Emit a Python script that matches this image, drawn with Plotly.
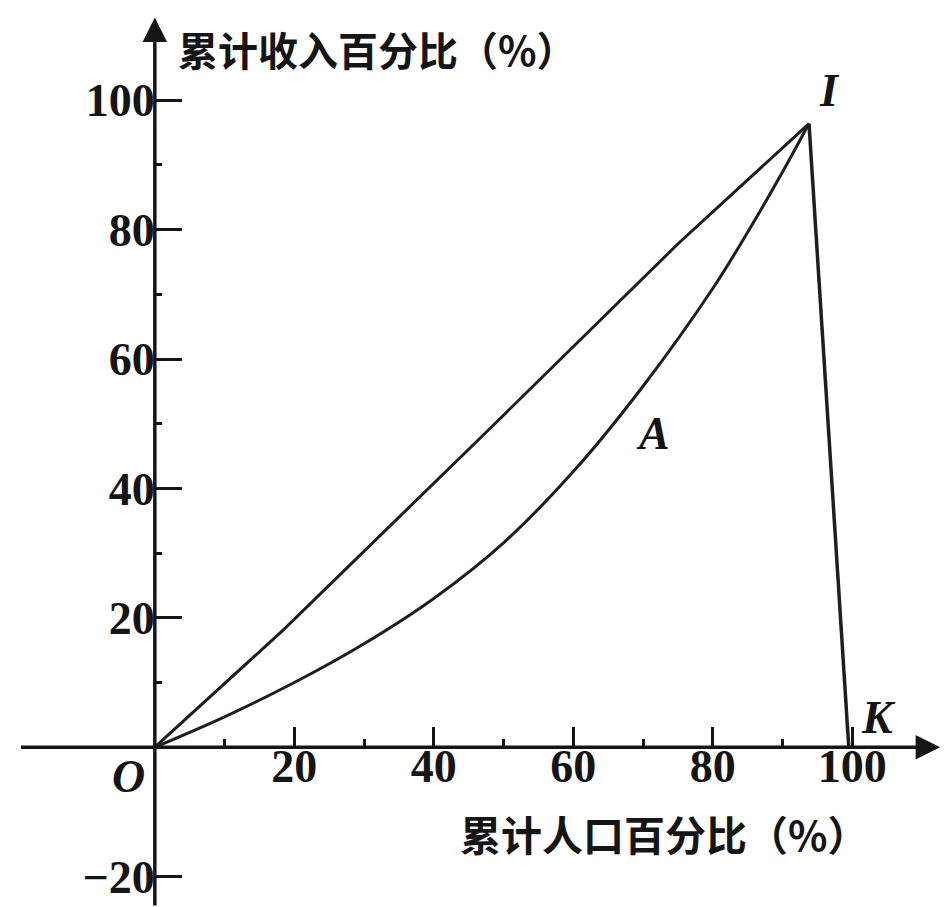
import plotly.graph_objects as go

# ---- data (cumulative population %, cumulative income %) ----
equal_x = [0, 18.4, 47.8, 75.1, 93.8]
equal_y = [0, 18.1, 49.0, 77.9, 96.4]

curve_a_x = [0, 10, 20, 30, 40, 50, 60, 70, 80, 85, 90, 93.8]
curve_a_y = [0, 4.7, 10.0, 16.0, 23.0, 31.6, 42.6, 55.8, 70.9, 79.6, 88.9, 96.4]

ik_x = [93.8, 99.5]
ik_y = [96.4, 0]

x_ticks = [20, 40, 60, 80, 100]
x_minor = [10, 30, 50, 70, 90]
y_ticks = [-20, 20, 40, 60, 80, 100]
y_minor = [10, 30, 50, 70, 90]

x_title = "累计人口百分比（%）"
y_title = "累计收入百分比（%）"

# ---- layout constants ----
W, H = 945, 907
X_RANGE = [-22.2, 113.3]
Y_RANGE = [-24.7, 115.5]
INK = "#151515"
SERIF = "Liberation Serif"
CJK = "Noto Sans CJK SC"

fig = go.Figure()

fig.add_trace(go.Scatter(x=equal_x, y=equal_y, mode="lines",
                         line=dict(color="#1e1e1e", width=3),
                         hoverinfo="skip", showlegend=False))
fig.add_trace(go.Scatter(x=curve_a_x, y=curve_a_y, mode="lines",
                         line=dict(color="#1e1e1e", width=3, shape="spline", smoothing=1.0),
                         hoverinfo="skip", showlegend=False))
fig.add_trace(go.Scatter(x=ik_x, y=ik_y, mode="lines", line=dict(color="#1e1e1e", width=3.5),
                         hoverinfo="skip", showlegend=False))

x0_frac = (0 - X_RANGE[0]) / (X_RANGE[1] - X_RANGE[0])
y0_frac = (0 - Y_RANGE[0]) / (Y_RANGE[1] - Y_RANGE[0])

tick_font = dict(family=SERIF, size=46, color=INK, weight="bold")

fig.update_xaxes(
    range=X_RANGE, domain=[0, 1], anchor="free", position=y0_frac,
    showgrid=False, zeroline=False, showline=False,
    tickmode="array", tickvals=x_ticks, ticktext=[str(v) for v in x_ticks],
    ticks="inside", ticklen=20, tickwidth=3, tickcolor=INK,
    tickfont=tick_font, ticklabelstandoff=-12,
    minor=dict(tickmode="array", tickvals=x_minor, ticks="inside",
               ticklen=8, tickwidth=3, tickcolor=INK, showgrid=False),
)
fig.update_yaxes(
    range=Y_RANGE, domain=[0, 1], anchor="free", position=x0_frac,
    showgrid=False, zeroline=False, showline=False,
    tickmode="array", tickvals=y_ticks, ticktext=[("−20" if v < 0 else str(v)) for v in y_ticks],
    ticks="inside", ticklen=26, tickwidth=3, tickcolor=INK,
    tickfont=tick_font,
    minor=dict(tickmode="array", tickvals=y_minor, ticks="inside",
               ticklen=6, tickwidth=3, tickcolor=INK, showgrid=False),
)

annotations = []
# axis lines with arrow heads
annotations.append(dict(x=112.6, y=0, ax=-19.4, ay=0, xref="x", yref="y", axref="x", ayref="y",
                        text="", showarrow=True, arrowhead=2, arrowsize=1.4, arrowwidth=3.5,
                        arrowcolor=INK, standoff=0, startstandoff=0))
annotations.append(dict(x=0, y=112.8, ax=0, ay=-24.7, xref="x", yref="y", axref="x", ayref="y",
                        text="", showarrow=True, arrowhead=2, arrowsize=1.4, arrowwidth=3.5,
                        arrowcolor=INK, standoff=0, startstandoff=0))

label_font = dict(family=SERIF, size=46, color=INK, weight="bold", style="italic")
for txt, x, y in [("O", -3.8, -4.5), ("I", 96.8, 101.5), ("A", 71.5, 48.5), ("K", 103.8, 4.6)]:
    annotations.append(dict(x=x, y=y, xref="x", yref="y", text=txt, showarrow=False,
                            font=label_font, xanchor="center", yanchor="middle"))

annotations.append(dict(x=73.0, y=-13.3, xref="x", yref="y", text=x_title, showarrow=False,
                        font=dict(family=CJK, size=41, color=INK, weight="bold"),
                        xanchor="center", yanchor="middle"))
annotations.append(dict(x=3.0, y=108.0, xref="x", yref="y", text=y_title, showarrow=False,
                        font=dict(family=CJK, size=40, color=INK, weight="bold"),
                        xanchor="left", yanchor="middle"))

fig.update_layout(
    width=W, height=H,
    margin=dict(l=0, r=0, t=0, b=0),
    paper_bgcolor="white", plot_bgcolor="white",
    showlegend=False,
    annotations=annotations,
)

fig.write_html("out.html", config={"displayModeBar": False},
               post_script="document.body.style.margin='0px';")
